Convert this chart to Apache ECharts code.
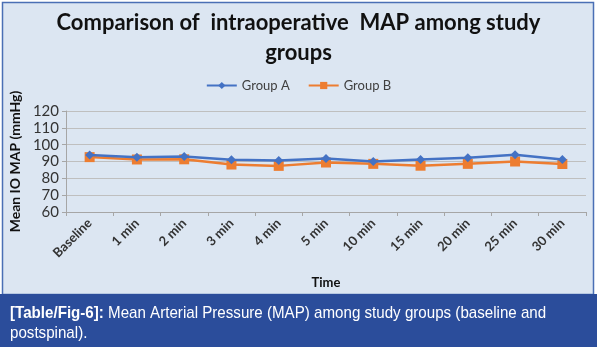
<!DOCTYPE html>
<html>
<head>
<meta charset="utf-8">
<script src="https://cdn.jsdelivr.net/npm/echarts@6/dist/echarts.min.js"></script>
<style>
  html, body { margin: 0; padding: 0; background: #ffffff; }
  #chart { width: 597px; height: 347px; }
</style>
</head>
<body>
<div id="chart"></div>
<script>
// Time points of the intraoperative record
const timePoints = ['Baseline', '1 min', '2 min', '3 min', '4 min', '5 min',
                    '10 min', '15 min', '20 min', '25 min', '30 min'];
// Mean intraoperative MAP (mmHg) for each group
const groupA = [93.8, 92.5, 93.0, 91.0, 90.6, 91.8, 90.0, 91.2, 92.2, 94.0, 91.2];
const groupB = [92.6, 91.2, 91.3, 88.2, 87.4, 89.4, 88.6, 87.5, 88.6, 90.0, 88.5];
// Value axis range
const yMin = 60, yMax = 120, yStep = 10;

const chart = echarts.init(document.getElementById('chart'), null, { renderer: 'canvas' });

const titleFont = 'Lato, "Open Sans", sans-serif';
const captionFont = '"Liberation Sans", Arial, sans-serif';

chart.setOption({
  animation: false,
  backgroundColor: '#ffffff',
  graphic: [
    { type: 'rect', z: -10, shape: { x: 2.5, y: 2.5, width: 591, height: 292 },
      style: { fill: '#dce6f2', stroke: '#4a6fb5', lineWidth: 1.5 } },
    { type: 'rect', z: -9, shape: { x: 0, y: 294, width: 597, height: 53 },
      style: { fill: '#2b4d9b' } },
    { type: 'text', x: 10, y: 303, scaleX: 0.89,
      style: {
        text: '{b|[Table/Fig-6]:} Mean Arterial Pressure (MAP) among study groups (baseline and\npostspinal).',
        fill: '#ffffff',
        font: '17px ' + captionFont,
        lineHeight: 20,
        rich: { b: { fontWeight: 'bold', fontSize: 17, fill: '#ffffff', fontFamily: captionFont } }
      } }
  ],
  title: {
    text: 'Comparison of  intraoperative  MAP among study\ngroups',
    left: 'center',
    top: 3,
    textStyle: { fontFamily: titleFont, fontSize: 22, fontWeight: 'bold',
                 color: '#111111', lineHeight: 30, align: 'center' }
  },
  legend: {
    top: 74,
    left: 'center',
    itemWidth: 30,
    itemHeight: 9,
    itemGap: 18,
    textStyle: { fontFamily: titleFont, fontSize: 13, color: '#404040' },
    data: ['Group A', 'Group B']
  },
  grid: { left: 63, right: 11, top: 111, bottom: 135, containLabel: false },
  xAxis: {
    type: 'category',
    data: timePoints,
    boundaryGap: true,
    name: 'Time',
    nameLocation: 'middle',
    nameGap: 64,
    nameTextStyle: { fontFamily: titleFont, fontSize: 13, fontWeight: 'bold', color: '#111111' },
    axisLine: { lineStyle: { color: '#a6a6a6', width: 1 } },
    axisTick: { show: true, interval: 0, length: 4, lineStyle: { color: '#a6a6a6' } },
    axisLabel: { rotate: 45, interval: 0, margin: 9, fontFamily: titleFont,
                 fontSize: 13, fontWeight: 'bold', color: '#333333' }
  },
  yAxis: {
    type: 'value',
    min: yMin, max: yMax, interval: yStep,
    name: 'Mean IO MAP (mmHg)',
    nameLocation: 'middle',
    nameRotate: 90,
    nameGap: 41,
    nameTextStyle: { fontFamily: titleFont, fontSize: 14, fontWeight: 'bold', color: '#111111' },
    axisLine: { show: true, lineStyle: { color: '#a6a6a6', width: 1 } },
    axisTick: { show: true, length: 4, lineStyle: { color: '#a6a6a6' } },
    axisLabel: { margin: 7, fontFamily: titleFont, fontSize: 15, color: '#333333' },
    splitLine: { lineStyle: { color: '#bfbfbf', width: 1 } }
  },
  series: [
    {
      name: 'Group A', type: 'line', data: groupA,
      symbol: 'diamond', symbolSize: 9,
      itemStyle: { color: '#4472c4' },
      lineStyle: { color: '#4472c4', width: 2.5 },
      z: 3
    },
    {
      name: 'Group B', type: 'line', data: groupB,
      symbol: 'rect', symbolSize: 10,
      itemStyle: { color: '#ed7d31' },
      lineStyle: { color: '#ed7d31', width: 2.5 },
      z: 2
    }
  ]
});
</script>
</body>
</html>
